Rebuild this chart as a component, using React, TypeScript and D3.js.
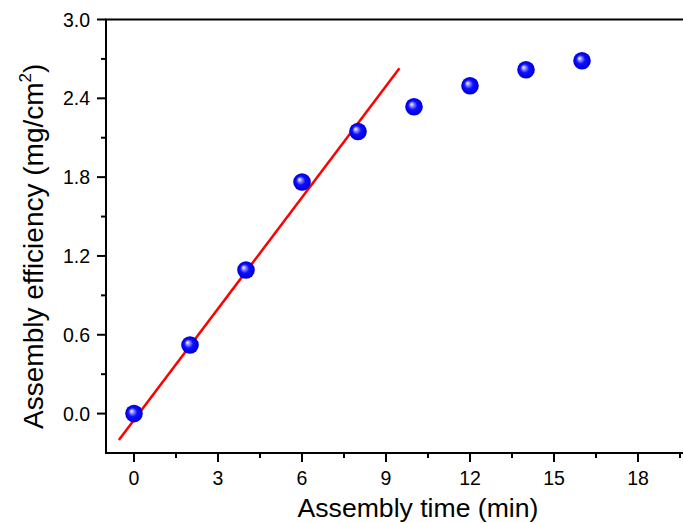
import React from "react";
import * as d3 from "d3";

const times = [0, 2, 4, 6, 8, 10, 12, 14, 16];
const efficiency = [0.0, 0.522, 1.093, 1.763, 2.147, 2.336, 2.496, 2.617, 2.686];
const fitSlope = 0.2824;
const fitIntercept = -0.049;
const fitRange = [-0.54, 9.48];
const xTicks = [0, 3, 6, 9, 12, 15, 18];
const xMinorTicks = [1.5, 4.5, 7.5, 10.5, 13.5, 16.5, 19.5];
const yTicks = [0.0, 0.6, 1.2, 1.8, 2.4, 3.0];
const yMinorTicks = [0.3, 0.9, 1.5, 2.1, 2.7];

const W = 683;
const H = 523;
const left = 106;
const right = 694;
const top = 19.5;
const bottom = 453;

export default function App() {
  const x = d3.scaleLinear().domain([-1, 20]).range([left, right]);
  const y = d3.scaleLinear().domain([-0.3, 3.0]).range([bottom, top]);
  const fitLine = d3
    .line<number>()
    .x((d) => x(d))
    .y((d) => y(fitSlope * d + fitIntercept));
  const font = "Arial, 'Liberation Sans', sans-serif";
  return (
    <svg
      width={W}
      height={H}
      style={{ position: "absolute", left: 0, top: 0, background: "#fff" }}
      fontFamily={font}
    >
      <defs>
        <radialGradient id="ball" cx="0.5" cy="0.5" r="0.5" fx="0.35" fy="0.35">
          <stop offset="0" stopColor="#ffffff" />
          <stop offset="0.18" stopColor="#a0a0ff" />
          <stop offset="0.5" stopColor="#1010ff" />
          <stop offset="0.85" stopColor="#0000f0" />
          <stop offset="1" stopColor="#0000c8" />
        </radialGradient>
      </defs>
      {/* frame */}
      <rect
        x={left}
        y={top}
        width={right - left}
        height={bottom - top}
        fill="none"
        stroke="#000"
        strokeWidth={2}
      />
      {/* x ticks */}
      {xTicks.map((t) => (
        <g key={"xt" + t}>
          <line x1={x(t)} x2={x(t)} y1={bottom} y2={bottom + 9} stroke="#000" strokeWidth={2} />
          <text x={x(t)} y={bottom + 32} textAnchor="middle" fontSize={19.5} fill="#000">
            {t}
          </text>
        </g>
      ))}
      {xMinorTicks.map((t) => (
        <line key={"xm" + t} x1={x(t)} x2={x(t)} y1={bottom} y2={bottom + 5} stroke="#000" strokeWidth={2} />
      ))}
      {/* y ticks */}
      {yTicks.map((t) => (
        <g key={"yt" + t}>
          <line x1={left - 9} x2={left} y1={y(t)} y2={y(t)} stroke="#000" strokeWidth={2} />
          <text x={left - 16} y={y(t) + 7} textAnchor="end" fontSize={19.5} fill="#000">
            {t.toFixed(1)}
          </text>
        </g>
      ))}
      {yMinorTicks.map((t) => (
        <line key={"ym" + t} x1={left - 5} x2={left} y1={y(t)} y2={y(t)} stroke="#000" strokeWidth={2} />
      ))}
      {/* fit line */}
      <path d={fitLine(fitRange) || ""} fill="none" stroke="#ff0000" strokeWidth={2.5} />
      {/* points */}
      {times.map((t, i) => (
        <circle key={"p" + i} cx={x(t)} cy={y(efficiency[i])} r={8.8} fill="url(#ball)" />
      ))}
      {/* axis titles */}
      <text x={418} y={516.5} textAnchor="middle" fontSize={26.6} fill="#000">
        Assembly time (min)
      </text>
      <text
        transform={`translate(43, ${(bottom + top) / 2 + 10}) rotate(-90)`}
        textAnchor="middle"
        fontSize={28}
        fill="#000"
      >
        Assembly efficiency (mg/cm
        <tspan fontSize={17} dy={-12}>2</tspan>
        <tspan dy={12}>)</tspan>
      </text>
    </svg>
  );
}
